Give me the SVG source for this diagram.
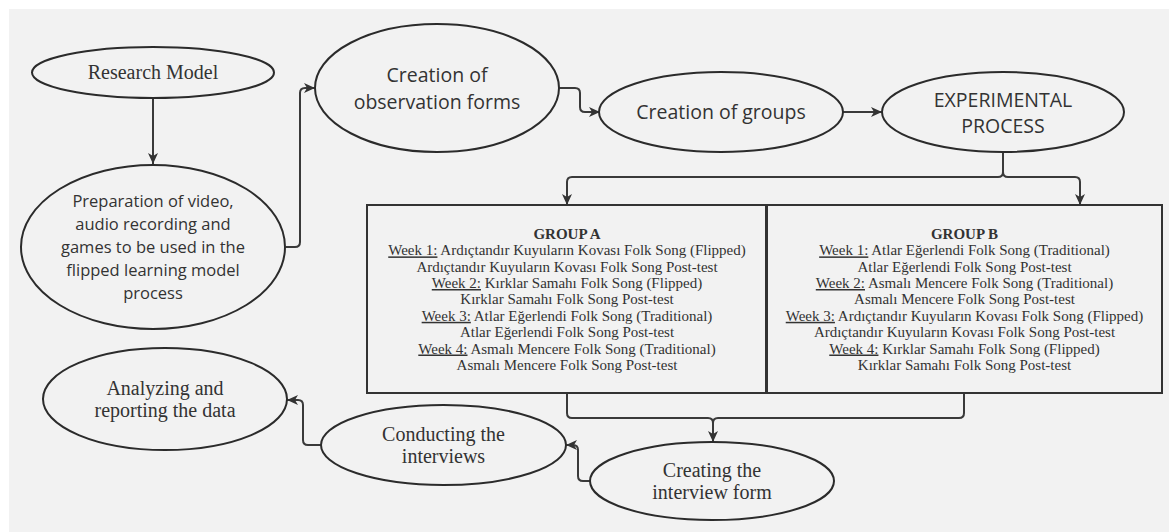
<svg xmlns="http://www.w3.org/2000/svg" width="1169" height="532" viewBox="0 0 1169 532">
<defs>
<marker id="ah" markerUnits="userSpaceOnUse" markerWidth="12" markerHeight="12" viewBox="0 0 12 12" refX="11" refY="6" orient="auto">
<path d="M0 1 L11 6 L0 11 L3 6 Z" fill="#333"/>
</marker>
<style>
.nd{fill:#f2f2f2;stroke:#2b2b2b;stroke-width:2}
.bx{fill:#f2f2f2;stroke:#333;stroke-width:2}
.cn{fill:none;stroke:#3a3a3a;stroke-width:2}
.ar{marker-end:url(#ah)}
.sf{font-family:"Liberation Serif","Times New Roman",serif;fill:#333;text-anchor:middle}
.ss{font-family:"Open Sans","Noto Sans",sans-serif;fill:#333;text-anchor:middle}
.bt{font-family:"Liberation Serif","Times New Roman",serif;font-size:15px;fill:#333;text-anchor:middle}
.u{text-decoration:underline}
</style>
</defs>
<rect x="0" y="0" width="1169" height="532" fill="#ffffff"/>
<rect x="9" y="9" width="1160" height="523" fill="#f2f2f2"/>

<g id="connectors">
<path class="cn ar" d="M153 98 V164"/>
<path class="cn ar" d="M286 247 H295 Q300 247 300 242 V93 Q300 88 305 88 H315"/>
<path class="cn ar" d="M559 88 H575 Q580 88 580 93 V107 Q580 112 585 112 H600"/>
<path class="cn ar" d="M843 112 H882"/>
<path class="cn" d="M1003 152 V172 Q1003 177 998 177 H572 Q567 177 567 182 V196"/>
<path class="cn ar" d="M567 190 V205"/>
<path class="cn" d="M1003 172 Q1003 177 1008 177 H1075 Q1080 177 1080 182 V196"/>
<path class="cn ar" d="M1080 190 V205"/>
<path class="cn" d="M567 393 V413 Q567 418 572 418 H708 Q713 418 713 423 V432"/>
<path class="cn" d="M964 393 V413 Q964 418 959 418 H718 Q713 418 713 423"/>
<path class="cn ar" d="M713 428 V442"/>
<path class="cn ar" d="M590 481 H583 Q578 481 578 476 V450 Q578 445 573 445 H566"/>
<path class="cn ar" d="M321 445 H308 Q303 445 303 440 V405 Q303 400 298 400 H287"/>
</g>

<g id="research-model">
<ellipse class="nd" cx="153" cy="72.5" rx="121" ry="25.5"/>
<text class="sf" x="153" y="79" font-size="20">Research Model</text>
</g>

<g id="preparation">
<ellipse class="nd" cx="153" cy="247" rx="132" ry="82"/>
<text class="ss" font-size="16.5"><tspan x="153" y="207">Preparation of video,</tspan><tspan x="153" y="230">audio recording and</tspan><tspan x="153" y="253">games to be used in the</tspan><tspan x="153" y="276">flipped learning model</tspan><tspan x="153" y="299">process</tspan></text>
</g>

<g id="observation-forms">
<ellipse class="nd" cx="437" cy="88" rx="122" ry="64"/>
<text class="ss" font-size="19.5"><tspan x="437" y="82">Creation of</tspan><tspan x="437" y="109">observation forms</tspan></text>
</g>

<g id="creation-groups">
<ellipse class="nd" cx="721" cy="112" rx="122" ry="40"/>
<text class="ss" font-size="19.5" x="721" y="119">Creation of groups</text>
</g>

<g id="experimental-process">
<ellipse class="nd" cx="1003" cy="112" rx="121" ry="40"/>
<text class="ss" font-size="19.5"><tspan x="1003" y="107">EXPERIMENTAL</tspan><tspan x="1003" y="133">PROCESS</tspan></text>
</g>

<g id="group-a">
<rect class="bx" x="367" y="205" width="399" height="188"/>
<text class="bt"><tspan x="567" y="239" font-weight="bold">GROUP A</tspan><tspan x="567" y="255.4"><tspan class="u">Week 1:</tspan> Ardıçtandır Kuyuların Kovası Folk Song (Flipped)</tspan><tspan x="567" y="271.7">Ardıçtandır Kuyuların Kovası Folk Song Post-test</tspan><tspan x="567" y="288"><tspan class="u">Week 2:</tspan> Kırklar Samahı Folk Song (Flipped)</tspan><tspan x="567" y="304.4">Kırklar Samahı Folk Song Post-test</tspan><tspan x="567" y="320.8"><tspan class="u">Week 3:</tspan> Atlar Eğerlendi Folk Song (Traditional)</tspan><tspan x="567" y="337">Atlar Eğerlendi Folk Song Post-test</tspan><tspan x="567" y="353.5"><tspan class="u">Week 4:</tspan> Asmalı Mencere Folk Song (Traditional)</tspan><tspan x="567" y="369.8">Asmalı Mencere Folk Song Post-test</tspan></text>
</g>

<g id="group-b">
<rect class="bx" x="767" y="205" width="395" height="188"/>
<text class="bt"><tspan x="964.5" y="239" font-weight="bold">GROUP B</tspan><tspan x="964.5" y="255.4"><tspan class="u">Week 1:</tspan> Atlar Eğerlendi Folk Song (Traditional)</tspan><tspan x="964.5" y="271.7">Atlar Eğerlendi Folk Song Post-test</tspan><tspan x="964.5" y="288"><tspan class="u">Week 2:</tspan> Asmalı Mencere Folk Song (Traditional)</tspan><tspan x="964.5" y="304.4">Asmalı Mencere Folk Song Post-test</tspan><tspan x="964.5" y="320.8"><tspan class="u">Week 3:</tspan> Ardıçtandır Kuyuların Kovası Folk Song (Flipped)</tspan><tspan x="964.5" y="337">Ardıçtandır Kuyuların Kovası Folk Song Post-test</tspan><tspan x="964.5" y="353.5"><tspan class="u">Week 4:</tspan> Kırklar Samahı Folk Song (Flipped)</tspan><tspan x="964.5" y="369.8">Kırklar Samahı Folk Song Post-test</tspan></text>
</g>

<g id="creating-interview-form">
<ellipse class="nd" cx="712" cy="481" rx="122" ry="39"/>
<text class="sf" font-size="20"><tspan x="712" y="477">Creating the</tspan><tspan x="712" y="499">interview form</tspan></text>
</g>

<g id="conducting-interviews">
<ellipse class="nd" cx="443.5" cy="445" rx="122.5" ry="40"/>
<text class="sf" font-size="20"><tspan x="443.5" y="441">Conducting the</tspan><tspan x="443.5" y="463">interviews</tspan></text>
</g>

<g id="analyzing">
<ellipse class="nd" cx="165" cy="399" rx="122" ry="51"/>
<text class="sf" font-size="20"><tspan x="165" y="395">Analyzing and</tspan><tspan x="165" y="417">reporting the data</tspan></text>
</g>
</svg>
